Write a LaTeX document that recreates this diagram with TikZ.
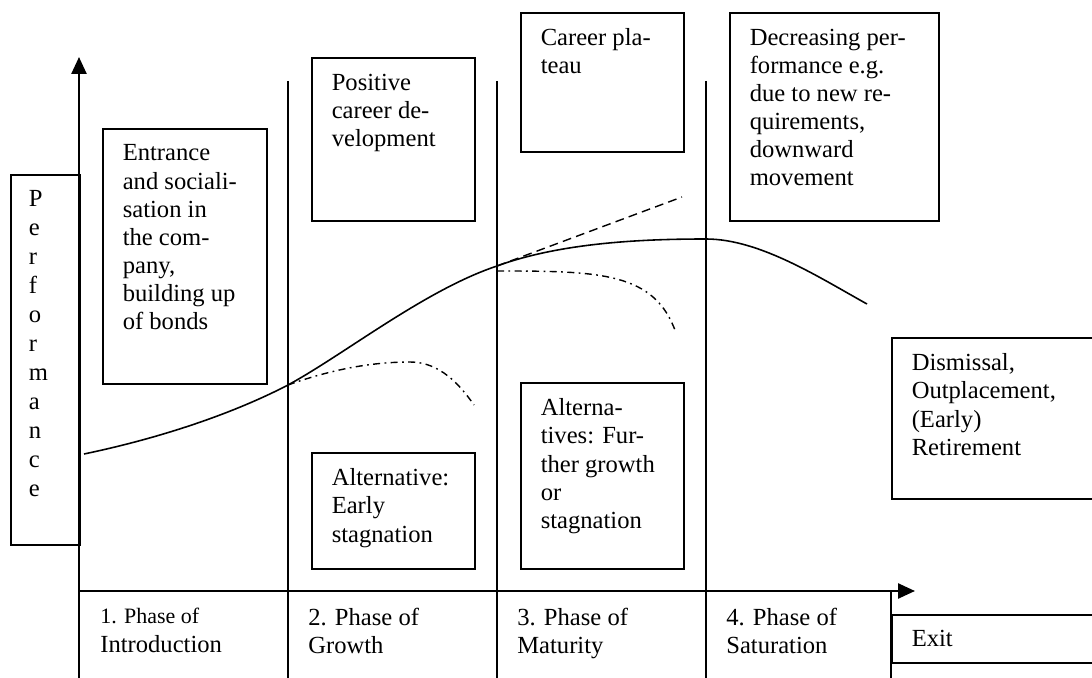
\documentclass[tikz,border=0pt]{standalone}
\usepackage{fontspec}
\setmainfont{Liberation Serif}
\usetikzlibrary{arrows.meta,positioning}

\tikzset{
  pbox/.style={draw, line width=0.9pt, anchor=north west, inner xsep=0.4cm, inner ysep=0.32cm,
    font=\fontsize{14}{16}\selectfont},
  phase/.style={anchor=base west, inner sep=0pt, font=\fontsize{14}{16}\selectfont},
  divider/.style={line width=0.8pt},
  axis/.style={line width=1.4pt, -{Triangle[length=0.34cm,width=0.3cm]}},
  branch/.style={line width=0.8pt, dash pattern=on 4pt off 2.5pt on 1pt off 2.5pt},
}

\begin{document}
\begin{tikzpicture}[x=0.02cm, y=-0.02cm]
\useasboundingbox (0,0) rectangle (1092,678);
\clip (0,0) rectangle (1092,678);

% axes and phase dividers
\coordinate (orig) at (79,591);
\coordinate (yTop) at (79,57);
\coordinate (xEnd) at (915,591);
\draw[divider] (79,591) -- (79,678);
\draw[divider] (288,81) -- (288,678);
\draw[divider] (497,81) -- (497,678);
\draw[divider] (706,81) -- (706,678);
\draw[divider] (891,591) -- (891,678);

\node[pbox, inner xsep=0.36cm, font=\fontsize{14}{16.5}\selectfont] (perf) at (10,174)
  {\parbox[t][6.76cm][t]{0.66cm}{P\\e\\r\\f\\o\\r\\m\\a\\n\\c\\e}};

\draw[axis] (orig) -- (yTop);
\draw[axis] (orig) -- (xEnd);

% text boxes
\node[pbox] (entrance) at (102,128)
  {\parbox[t][4.46cm][t]{2.48cm}{\raggedright Entrance\\and sociali-\\sation in\\the com-\\pany,\\building up\\of bonds}};
\node[pbox] (positive) at (311,57)
  {\parbox[t][2.62cm][t]{2.46cm}{\raggedright Positive\\career de-\\velopment}};
\node[pbox] (plateau) at (520,12)
  {\parbox[t][2.14cm][t]{2.46cm}{\raggedright Career pla-\\teau}};
\node[pbox] (decrease) at (729,12)
  {\parbox[t][3.52cm][t]{3.38cm}{\raggedright Decreasing per-\\formance e.g.\\due to new re-\\quirements,\\downward\\movement}};
\node[pbox] (early) at (311,452)
  {\parbox[t][1.68cm][t]{2.46cm}{\raggedright Alternative:\\Early\\stagnation}};
\node[pbox] (altern) at (520,382)
  {\parbox[t][3.08cm][t]{2.46cm}{\raggedright Alterna-\\tives: Fur-\\ther growth\\or\\stagnation}};
\node[pbox] (dismiss) at (891,337)
  {\parbox[t][2.58cm][t]{3.6cm}{\raggedright Dismissal,\\Outplacement,\\(Early)\\Retirement}};

% phase labels
\node[phase] (ph1) at (100,623)
  {\parbox[t]{3.8cm}{{\fontsize{12.5}{16}\selectfont 1. Phase of}\\[1pt]Introduction}};
\node[phase] (ph2) at (308,625) {\parbox[t]{3.8cm}{2. Phase of\\Growth}};
\node[phase] (ph3) at (517,625) {\parbox[t]{3.8cm}{3. Phase of\\Maturity}};
\node[phase] (ph4) at (726,625) {\parbox[t]{3.4cm}{4. Phase of\\Saturation}};
\node[draw, line width=0.9pt, anchor=north west, minimum width=4.4cm, minimum height=0.96cm,
  inner xsep=0.4cm, font=\fontsize{14}{16}\selectfont] (exitBox) at (891,614)
  {\parbox{3.6cm}{Exit}};

% performance curves
\coordinate (growthPt) at (288,385);
\coordinate (maturePt) at (497,266);
\coordinate (peakPt) at (706,239);
\draw[line width=0.9pt] (84,454) .. controls (170,436) and (240,410) .. (growthPt)
  .. controls (345,354) and (425,290) .. (maturePt)
  .. controls (560,243) and (640,239) .. (peakPt)
  .. controls (760,239) and (820,278) .. (867,304);
\draw[line width=0.8pt, dash pattern=on 5pt off 3pt] (maturePt) -- (682,197);
\draw[branch] (497,271) .. controls (600,271) and (655,272) .. (676,333);
\draw[branch] (growthPt) .. controls (330,370) and (370,362) .. (410,362)
  .. controls (440,362) and (460,385) .. (474,405);

\end{tikzpicture}
\end{document}
